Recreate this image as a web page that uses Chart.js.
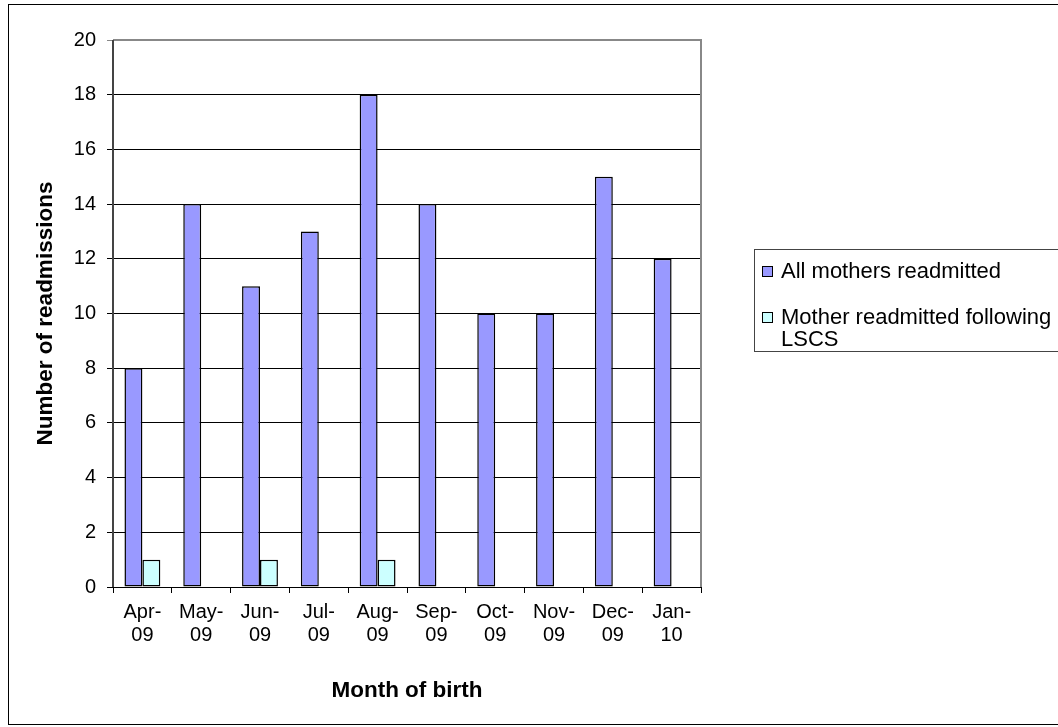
<!DOCTYPE html>
<html>
<head>
<meta charset="utf-8">
<script src="https://cdn.jsdelivr.net/npm/chart.js@4.4.0/dist/chart.umd.min.js"></script>
<style>
  html, body { margin: 0; padding: 0; background: #fff; }
  #wrap { position: relative; width: 1058px; height: 727px; overflow: hidden; }
  #frame { position: absolute; left: 8px; top: 4px; width: 1100px; height: 721px; border: 1px solid #000; box-sizing: border-box; pointer-events: none; }
  #legend { position: absolute; left: 754px; top: 249px; width: 400px; height: 103px; border: 1px solid #444; box-sizing: border-box; font-family: "Liberation Sans", Arial, sans-serif; font-size: 22px; color: #000; }
  .item { position: absolute; left: 7px; line-height: 22px; }
  .sw { position: absolute; left: 0; width: 9px; height: 9px; border: 1px solid #000; }
  .txt { position: absolute; left: 19px; white-space: nowrap; }
</style>
</head>
<body>
<div id="wrap">
  <canvas id="c" width="1058" height="727"></canvas>
  <div id="frame"></div>
  <div id="legend"></div>
</div>
<script>
const categories = [["Apr-","09"],["May-","09"],["Jun-","09"],["Jul-","09"],["Aug-","09"],["Sep-","09"],["Oct-","09"],["Nov-","09"],["Dec-","09"],["Jan-","10"]];
const allMothers = [8, 14, 11, 13, 18, 14, 10, 10, 15, 12];
const afterLSCS = [1, 0, 1, 0, 1, 0, 0, 0, 0, 0];
const seriesNames = ["All mothers readmitted", ["Mother readmitted following", "LSCS"]];
const seriesColors = ["#9999FF", "#CCFFFF"];
const yTicks = { min: 0, max: 20, step: 2 };

const FONT = '"Liberation Sans", Arial, sans-serif';

const borderPlugin = {
  id: 'plotBorder',
  afterDraw(chart) {
    const a = chart.chartArea, ctx = chart.ctx;
    ctx.save();
    ctx.strokeStyle = '#888';
    ctx.lineWidth = 2;
    ctx.beginPath();
    ctx.moveTo(a.left, a.top);
    ctx.lineTo(a.right, a.top);
    ctx.lineTo(a.right, a.bottom);
    ctx.stroke();
    ctx.strokeStyle = '#000';
    ctx.lineWidth = 1;
    ctx.beginPath();
    ctx.moveTo(a.left, a.bottom + 0.5);
    ctx.lineTo(a.right, a.bottom + 0.5);
    ctx.stroke();
    ctx.strokeStyle = '#444';
    ctx.lineWidth = 2;
    ctx.beginPath();
    ctx.moveTo(a.left, a.top);
    ctx.lineTo(a.left, a.bottom);
    ctx.stroke();
    ctx.restore();
  }
};

new Chart(document.getElementById('c'), {
  type: 'bar',
  data: {
    labels: categories,
    datasets: [
      { label: "All mothers readmitted", data: allMothers, backgroundColor: seriesColors[0], borderColor: '#000', borderWidth: 1.5, borderSkipped: false, barPercentage: 1, categoryPercentage: 0.61 },
      { label: "Mother readmitted following LSCS", data: afterLSCS, backgroundColor: seriesColors[1], borderColor: '#000', borderWidth: 1.5, borderSkipped: false, barPercentage: 1, categoryPercentage: 0.61 }
    ]
  },
  options: {
    responsive: false,
    animation: false,
    devicePixelRatio: 1,
    layout: { padding: { left: 20, top: 40, right: 357, bottom: 23 } },
    plugins: { legend: { display: false }, tooltip: { enabled: false } },
    scales: {
      x: {
        grid: { display: true, drawOnChartArea: false, drawTicks: true, tickLength: 6, color: '#000', offset: true },
        border: { display: false },
        ticks: { color: '#000', font: { family: FONT, size: 20, lineHeight: 1.15 }, padding: 8, maxRotation: 0, autoSkip: false },
        title: { display: true, text: 'Month of birth', color: '#000', font: { family: FONT, size: 22.5, weight: 'bold', lineHeight: 1.2 }, padding: { top: 0, bottom: 0 } },
        afterFit(s) { s.height = 117; }
      },
      y: {
        min: yTicks.min, max: yTicks.max,
        grid: { color: ctx => (ctx.tick && ctx.tick.value === yTicks.max) ? '#888' : '#000', tickLength: 6, lineWidth: 1 },
        border: { display: false },
        ticks: { stepSize: yTicks.step, color: '#000', font: { family: FONT, size: 20 }, padding: 11 },
        title: { display: true, text: 'Number of readmissions', color: '#000', font: { family: FONT, size: 22.5, weight: 'bold', lineHeight: 1.2 }, padding: { top: 12, bottom: 0 } },
        afterFit(s) { s.width = 93; }
      }
    }
  },
  plugins: [borderPlugin]
});

const legend = document.getElementById('legend');
const tops = [10, 56];
seriesNames.forEach((name, i) => {
  const item = document.createElement('div');
  item.className = 'item';
  item.style.top = tops[i] + 'px';
  const sw = document.createElement('div');
  sw.className = 'sw';
  sw.style.background = seriesColors[i];
  sw.style.top = '6px';
  const txt = document.createElement('div');
  txt.className = 'txt';
  const lines = Array.isArray(name) ? name : [name];
  txt.innerHTML = lines.map(l => '<div>' + l + '</div>').join('');
  item.appendChild(sw);
  item.appendChild(txt);
  legend.appendChild(item);
});
</script>
</body>
</html>
